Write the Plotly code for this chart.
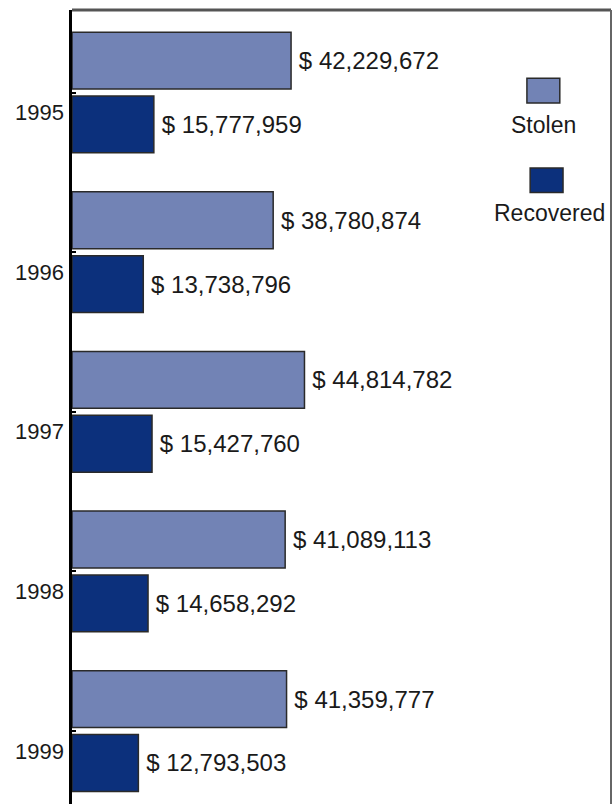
import plotly.graph_objects as go

years = ["1995", "1996", "1997", "1998", "1999"]
stolen = [42229672, 38780874, 44814782, 41089113, 41359777]
recovered = [15777959, 13738796, 15427760, 14658292, 12793503]
series_names = ["Stolen", "Recovered"]
colors = ["#7283B5", "#0C307C"]

def fmt(v):
    return "\u2009$ " + f"{v:,}"

FONT = "Liberation Sans, Arial, sans-serif"

fig = go.Figure()
for name, vals, col in zip(series_names, [stolen, recovered], colors):
    fig.add_trace(go.Bar(
        y=years, x=vals, name=name, orientation="h",
        marker=dict(color=col, line=dict(color="#2a2a2a", width=1.5)),
        text=[fmt(v) for v in vals], textposition="outside",
        textfont=dict(family=FONT, size=24, color="#1a1a1a"),
        cliponaxis=False, showlegend=False,
    ))

annotations = []
for i, y in enumerate(years):
    annotations.append(dict(x=0, xref="paper", y=i, yref="y", text=y,
                            xanchor="right", yanchor="middle", xshift=-6, yshift=-20,
                            showarrow=False, font=dict(family=FONT, size=22, color="#1a1a1a")))

# legend (stacked swatch over label)
leg = [
    (series_names[0], colors[0], (0.844, 0.905, 0.883, 0.914), (0.874, 0.855)),
    (series_names[1], colors[1], (0.850, 0.911, 0.770, 0.801), (0.885, 0.744)),
]
shapes = []
for name, col, (x0, x1, y0, y1), (tx, ty) in leg:
    shapes.append(dict(type="rect", xref="paper", yref="paper", x0=x0, x1=x1, y0=y0, y1=y1,
                       fillcolor=col, line=dict(color="#2a2a2a", width=1.5)))
    annotations.append(dict(x=tx, y=ty, xref="paper", yref="paper", text=name, showarrow=False,
                            xanchor="center", yanchor="middle",
                            font=dict(family=FONT, size=23, color="#1a1a1a")))

# frame: top and right borders
shapes.append(dict(type="line", xref="paper", yref="paper", x0=0, x1=1, y0=1, y1=1,
                   line=dict(color="#555555", width=3)))
shapes.append(dict(type="line", xref="paper", yref="paper", x0=1, x1=1, y0=0, y1=1,
                   line=dict(color="#666666", width=2)))

fig.update_layout(
    width=613, height=804,
    margin=dict(l=72, r=2, t=10, b=0),
    paper_bgcolor="white", plot_bgcolor="white",
    barmode="group", bargap=0.2, bargroupgap=0.11,
    xaxis=dict(range=[0, 103.9e6], showgrid=False, zeroline=False, showticklabels=False,
               ticks="", showline=False),
    yaxis=dict(type="category", categoryorder="array", categoryarray=years,
               range=[4.457, -0.517], showgrid=False, zeroline=False,
               showline=True, linecolor="black", linewidth=3,
               ticks="inside", ticklen=4, tickwidth=2, tickcolor="black",
               showticklabels=False),
    shapes=shapes, annotations=annotations,
    font=dict(family=FONT),
)

fig.write_html("out.html", config={"displayModeBar": False},
               post_script="document.body.style.margin='0';document.body.style.overflow='hidden';")
